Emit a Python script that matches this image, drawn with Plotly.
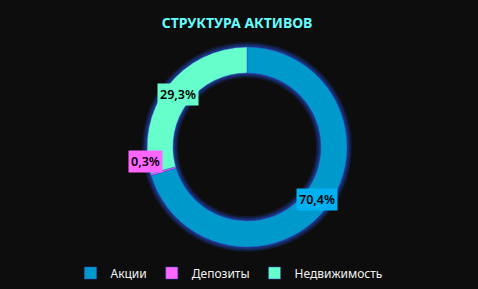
import math
import plotly.graph_objects as go

labels = ["Акции", "Депозиты", "Недвижимость"]
values = [70.4, 0.3, 29.3]
value_texts = ["70,4%", "0,3%", "29,3%"]
colors = ["#0099CC", "#FF66FF", "#66FFCC"]
label_bg = ["#00B0F0", "#FF66FF", "#66FFCC"]

W, H = 478, 289
cx, cy, R = 247, 147, 100
ring = 26

fig = go.Figure()

# soft glow rings behind the donut
for g, a in [(5, 0.18), (3.5, 0.25), (2, 0.35)]:
    fig.add_trace(go.Pie(
        values=[1], hole=(R - ring - g) / (R + g), sort=False, showlegend=False,
        marker=dict(colors=[f"rgba(35,75,200,{a})"], line=dict(width=0)),
        textinfo="none", hoverinfo="skip",
        domain=dict(x=[(cx - R - g) / W, (cx + R + g) / W],
                    y=[(H - cy - R - g) / H, (H - cy + R + g) / H]),
    ))

fig.add_trace(go.Pie(
    labels=labels, values=values, hole=(R - ring) / R, sort=False,
    direction="clockwise", rotation=0,
    marker=dict(colors=colors, line=dict(color="#3a4fd0", width=0.5)),
    textinfo="none",
    domain=dict(x=[(cx - R) / W, (cx + R) / W],
                y=[(H - cy - R) / H, (H - cy + R) / H]),
))

# data labels positioned from slice mid angles
total = sum(values)
cum = 0
shifts = [(0, 0), (-18, 10), (0, 0)]
for v, t, bg, (sx, sy) in zip(values, value_texts, label_bg, shifts):
    mid = (cum + v / 2) / total * 2 * math.pi
    cum += v
    r = 87
    px = cx + r * math.sin(mid)
    py = cy - r * math.cos(mid)
    fig.add_annotation(
        x=px / W, y=1 - py / H, xref="paper", yref="paper",
        xanchor="center", yanchor="middle",
        text=t, showarrow=False, bgcolor=bg, borderpad=2,
        font=dict(family="Noto Sans", size=12.5, color="#000000", weight=600),
        xshift=sx, yshift=sy,
    )

fig.update_layout(
    width=W, height=H,
    paper_bgcolor="#0D0D0D", plot_bgcolor="#0D0D0D",
    margin=dict(l=0, r=0, t=0, b=0),
    title=dict(text="<b>СТРУКТУРА АКТИВОВ</b>", x=237 / W, xanchor="center",
               y=1 - 23 / H, yanchor="middle",
               font=dict(family="Noto Sans", size=14, color="#66FFFF")),
    legend=dict(orientation="h", x=229 / W, xanchor="center",
                y=1 - 273 / H, yanchor="middle",
                font=dict(family="Noto Sans", size=12, color="#F2F2F2"),
                bgcolor="rgba(0,0,0,0)"),
)

fig.write_html("out.html")
